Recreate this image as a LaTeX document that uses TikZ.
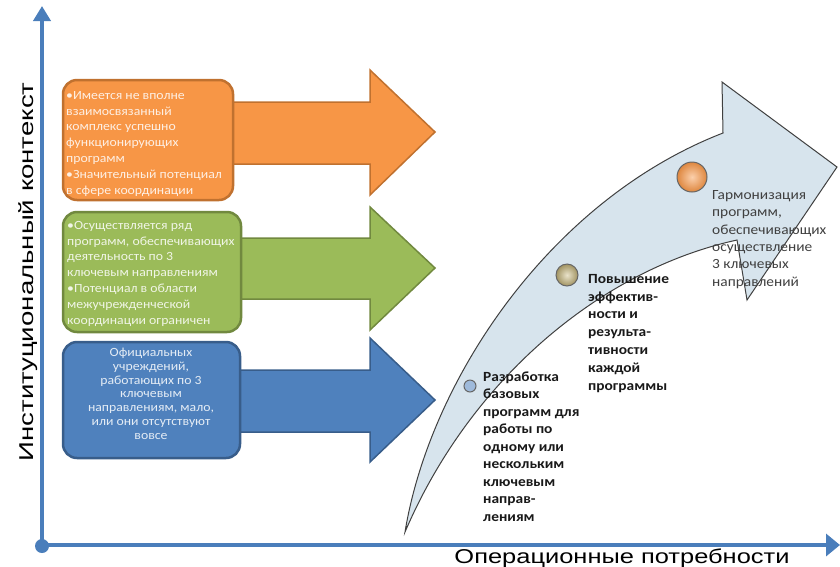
\documentclass[tikz,border=0pt]{standalone}
\usepackage{fontspec}
\setmainfont{Carlito}
\newfontfamily\arialf{Liberation Sans}
\newfontfamily\widef[FakeStretch=1.1]{Carlito}
\usetikzlibrary{arrows.meta}
\definecolor{orgfill}{HTML}{F79646}
\definecolor{orgline}{HTML}{C0712F}
\definecolor{grnfill}{HTML}{9BBB59}
\definecolor{grnline}{HTML}{71893F}
\definecolor{blufill}{HTML}{4F81BD}
\definecolor{bluline}{HTML}{385D8A}
\definecolor{axisblue}{HTML}{4A7EBB}
\definecolor{curvefill}{HTML}{D7E4ED}
\definecolor{curveline}{HTML}{404040}
\definecolor{khaki}{HTML}{C9B87A}
\tikzset{
  boxst/.style={rounded corners=14pt, line width=2.5pt},
  blockarrow/.style={line width=1.5pt, line join=miter},
  boxtext/.style={inner sep=0pt, anchor=base west, align=left},
  curvest/.style={fill=curvefill, draw=curveline, line width=1pt, line join=miter},
  steptext/.style={inner sep=0pt, anchor=base west, align=left},
  axisst/.style={draw=axisblue, line width=4.5pt},
  ballst/.style={circle, inner sep=0pt, draw=black!60, line width=1pt, shading=radial}
}
\begin{document}
\begin{tikzpicture}[x=1pt,y=-1pt]
\useasboundingbox (0,0) rectangle (840,566);
% axes
\coordinate (O) at (42,546);
\coordinate (Ytop) at (42,6);
\coordinate (Xend) at (840,545);
\draw[axisst, -{Triangle[length=15pt,width=17pt]}] (O) -- (Ytop);
\draw[axisst, -{Triangle[length=14pt,width=22pt]}] (36,545) -- (Xend);
\fill[axisblue] (O) circle (7);
\node[anchor=base, rotate=90, inner sep=0pt] (ylab) at (33,272)
  {\resizebox{379pt}{\height}{\arialf\fontsize{20}{20}\selectfont Институциональный контекст}};
\node[anchor=base, inner sep=0pt] (xlab) at (622,563)
  {\resizebox{335pt}{\height}{\arialf\fontsize{20}{20}\selectfont Операционные потребности}};
% block arrows
\draw[blockarrow, fill=orgfill, draw=orgline] (232,102) -- (370,102) -- (370,70) -- (435,132) -- (370,195) -- (370,164) -- (232,164) -- cycle;
\draw[blockarrow, fill=grnfill, draw=grnline] (232,238) -- (370,238) -- (370,207) -- (435,268) -- (370,330) -- (370,299) -- (232,299) -- cycle;
\draw[blockarrow, fill=blufill, draw=bluline] (232,370) -- (370,370) -- (370,338) -- (435,400) -- (370,462) -- (370,432) -- (232,432) -- cycle;
% boxes
\node[boxst, fill=orgfill, draw=orgline, minimum width=170pt, minimum height=120pt] (ob) at (148,140) {};
\node[boxst, fill=grnfill, draw=grnline, minimum width=178pt, minimum height=120pt] (gb) at (152,272) {};
\node[boxst, fill=blufill, draw=bluline, minimum width=177pt, minimum height=116pt] (bb) at (151.5,400) {};
\node[boxtext, text=white!85!orgfill, font=\widef\fontsize{12.5}{15.8}\selectfont] (ot) at (66,194)
  {•Имеется не вполне\\взаимосвязанный\\комплекс успешно\\функционирующих\\программ\\•Значительный потенциал\\в сфере координации};
\node[boxtext, text=white!85!grnfill, font=\widef\fontsize{12.5}{15.8}\selectfont] (gt) at (67,324)
  {•Осуществляется ряд\\программ, обеспечивающих\\деятельность по 3\\ключевым направлениям\\•Потенциал в области\\межучрежденческой\\координации ограничен};
\node[inner sep=0pt, anchor=base, align=center, text=white!85!blufill, font=\widef\fontsize{12.5}{13.7}\selectfont] (bt) at (151,439)
  {Официальных\\учреждений,\\работающих по 3\\ключевым\\направлениям, мало,\\или они отсутствуют\\вовсе};
% curved arrow
\draw[curvest] (405,532) .. controls (430,380) and (550,200) .. (723,133) -- (722,82) -- (837,167) -- (747,300) -- (737,240) .. controls (600,270) and (470,380) .. cycle;
% balls
\node[ballst, shading=axis, top color=blufill!55, bottom color=blufill!55, minimum size=12pt] (b1) at (470,386) {};
\node[ballst, inner color=khaki!40!white, outer color=khaki!80!black, minimum size=22pt] (b2) at (567,275) {};
\node[ballst, inner color=orgfill!45!white, outer color=orgfill!90!black, minimum size=30pt] (b3) at (692,177) {};
% step texts
\node[steptext, font=\widef\bfseries\fontsize{14}{17.5}\selectfont, text=black!90] (t1) at (483,521)
  {Разработка\\базовых\\программ для\\работы по\\одному или\\нескольким\\ключевым\\направ-\\лениям};
\node[steptext, font=\widef\bfseries\fontsize{14}{17.8}\selectfont, text=black!90] (t2) at (588,390)
  {Повышение\\эффектив-\\ности и\\результа-\\тивности\\каждой\\программы};
\node[steptext, font=\widef\fontsize{14}{17.3}\selectfont, text=black!75] (t3) at (712,286)
  {Гармонизация\\программ,\\обеспечивающих\\осуществление\\3 ключевых\\направлений};
\end{tikzpicture}
\end{document}
